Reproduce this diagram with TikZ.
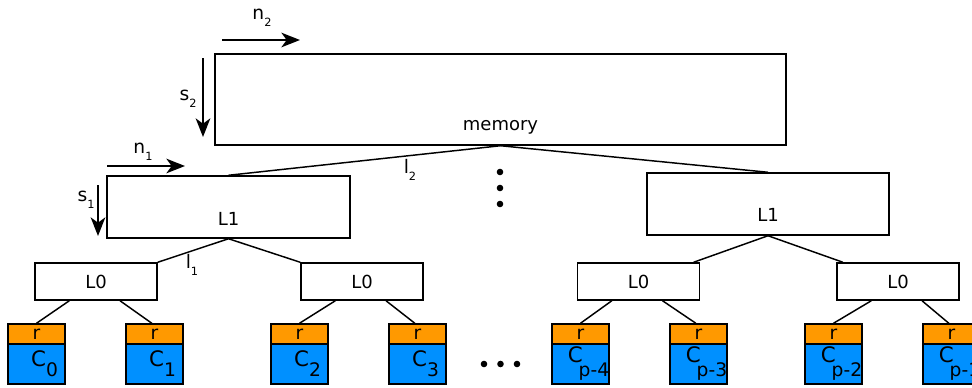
\documentclass[tikz,border=0pt]{standalone}
\usepackage{fontspec}
\setmainfont{DejaVu Sans}
\usetikzlibrary{arrows.meta}

\newcommand{\fsz}[1]{\fontsize{#1}{#1}\selectfont}
% letter with a small subscript (n_2, s_1, l_2 ...)
\newcommand{\sublab}[2]{\fsz{14}#1\raisebox{-5pt}{\fsz{8.5}#2}}
% cache name: C with its index
\newcommand{\cname}[3]{{\fsz{16}C}\hspace{#1}\raisebox{-#2}{\fsz{14}#3}}

\tikzset{
  box/.style 2 args={draw, line width=1.1pt, minimum width=#1*0.75pt, minimum height=#2*0.75pt, inner sep=0pt, font=\fsz{13.5}},
  rband/.style={box={57}{20}, fill={rgb,255:red,255;green,153;blue,0}, font=\fsz{14}},
  cpart/.style={box={57}{40}, fill={rgb,255:red,0;green,144;blue,255}},
  txt/.style={inner sep=0pt, font=\fsz{13.5}},
  dim/.style={line width=1.1pt, -{Stealth[length=14pt,width=11pt,inset=4pt]}},
  link/.style={line width=1.1pt}
}

\begin{document}
\begin{tikzpicture}[x=0.75pt,y=-0.75pt]
\useasboundingbox (0,0) rectangle (972,387);

% memory and the two L1 blocks
\node[box={571}{91}] (mem) at (500.5,99.5) {};
\node[txt] (memtxt) at (500.5,127) {memory};
\node[box={243}{62}] (L1a) at (228.5,207) {};
\node[txt] (L1atxt) at (228.5,219) {L1};
\node[box={242}{62}] (L1b) at (768,204) {};
\node[txt] (L1btxt) at (768,215) {L1};

% L0 blocks
\node[box={122}{37}] (L0a) at (96,281.5) {L0};
\node[box={122}{37}] (L0b) at (362,281.5) {L0};
\node[box={122}{37}] (L0c) at (638.5,281.5) {L0};
\node[box={122}{37}] (L0d) at (898,281.5) {L0};

% caches
\foreach \cx/\nm/\sh/\dn/\sub in {36.5/0/0pt/7.5pt/0, 154.5/1/0pt/7.5pt/1, 299.5/2/0pt/7.5pt/2, 417.5/3/0pt/7.5pt/3,
    580.5/4/-3pt/10.5pt/p-4, 698.5/5/-3pt/10.5pt/p-3, 833.5/6/-3pt/10.5pt/p-2, 951.5/7/-3pt/10.5pt/p-1}{
  \node[rband] (r\nm) at (\cx,334) {r};
  \node[cpart] (c\nm) at (\cx,364) {};
  \node[txt] (ct\nm) at (\cx+8,364) {\cname{\sh}{\dn}{\sub}};
}

% tree links
\draw[link] (mem.south) -- (L1a.north);
\draw[link] (mem.south) -- (L1b.north);
\draw[link] (L1a.south) -- (L0a.north east);
\draw[link] (L1a.south) -- (L0b.north west);
\draw[link] (L1b.south) -- ([xshift=-5pt]L0c.north east);
\draw[link] (L1b.south) -- ([xshift=5pt]L0d.north west);
\foreach \l/\a/\b in {L0a/0/1, L0b/2/3, L0c/4/5, L0d/6/7}{
  \draw[link] ([xshift=-20pt]\l.south) -- (r\a.north);
  \draw[link] ([xshift=18pt]\l.south) -- ([xshift=-2pt]r\b.north);
}
\node[inner sep=0pt] (l2) at (410,170) {\sublab{l}{2}};
\node[inner sep=0pt] (l1) at (192,265) {\sublab{l}{1}};

% sizes
\coordinate (n2s) at (222,40);
\coordinate (n2e) at (300,40);
\draw[dim] (n2s) -- (n2e);
\node[inner sep=0pt] (n2) at (262,18) {\sublab{n}{2}};
\coordinate (s2s) at (203,58);
\coordinate (s2e) at (203,137);
\draw[dim] (s2s) -- (s2e);
\node[inner sep=0pt] (s2) at (188,99) {\sublab{s}{2}};
\coordinate (n1s) at (107,166);
\coordinate (n1e) at (185,166);
\draw[dim] (n1s) -- (n1e);
\node[inner sep=0pt] (n1) at (143,152) {\sublab{n}{1}};
\coordinate (s1s) at (98,185);
\coordinate (s1e) at (98,236);
\draw[dim] (s1s) -- (s1e);
\node[inner sep=0pt] (s1) at (86,200) {\sublab{s}{1}};

% dots
\foreach \y in {172,188,204}
  \fill (500,\y) circle[radius=3.3];
\foreach \x in {484,500.5,517}
  \fill (\x,364) circle[radius=3.3];
\end{tikzpicture}
\end{document}
